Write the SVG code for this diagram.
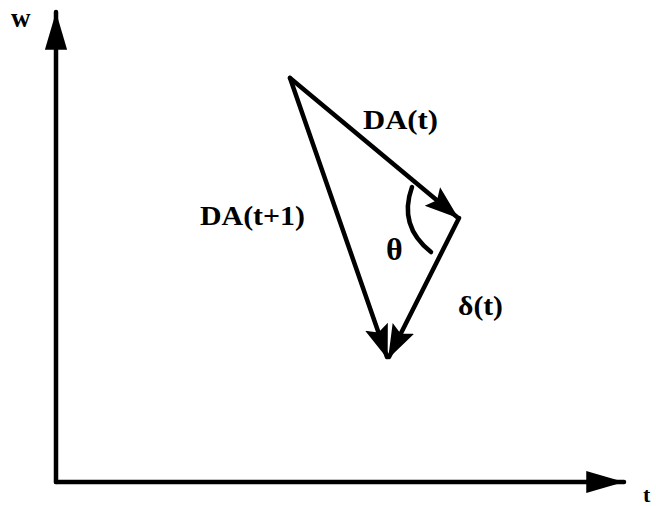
<svg xmlns="http://www.w3.org/2000/svg" width="656" height="506" viewBox="0 0 656 506">
<defs>
<marker id="ah" markerUnits="userSpaceOnUse" markerWidth="40" markerHeight="30" refX="32" refY="12" orient="auto" viewBox="0 0 40 24">
<path d="M0,0 L34,12 L0,24 L6,12 Z" fill="#000"/>
</marker>
<marker id="ax" markerUnits="userSpaceOnUse" markerWidth="40" markerHeight="30" refX="34" refY="10" orient="auto" viewBox="0 0 36 20">
<path d="M0,0 L34,10 L0,20 Z" fill="#000"/>
</marker>
</defs>
<style>
.l{stroke:#000;stroke-width:4.5;fill:none;stroke-linecap:round}
.t{font-family:"Liberation Serif",serif;font-weight:bold;fill:#000}
</style>
<rect width="656" height="506" fill="#fff"/>
<g id="axes">
<path class="l" d="M56,482 L56,12" marker-end="url(#ax)"/>
<path class="l" d="M56,482 L624,482" marker-end="url(#ax)"/>
</g>
<g id="connectors">
<path class="l" d="M290,78 L457,217" marker-end="url(#ah)"/>
<path class="l" d="M290,78 L387,357" marker-end="url(#ah)"/>
<path class="l" d="M459,218 L389,357" marker-end="url(#ah)"/>
<path class="l" d="M412,187 Q398,226 431,252"/>
</g>
<g id="labels">
<text class="t" x="11" y="27" font-size="27">w</text>
<text class="t" x="643" y="502" font-size="22">t</text>
<text class="t" x="363" y="129" font-size="27" textLength="75" lengthAdjust="spacingAndGlyphs">DA(t)</text>
<text class="t" x="200" y="225" font-size="27" textLength="105" lengthAdjust="spacingAndGlyphs">DA(t+1)</text>
<text class="t" x="386" y="260" font-size="32">θ</text>
<text class="t" x="458" y="315" font-size="27" textLength="45" lengthAdjust="spacingAndGlyphs">δ(t)</text>
</g>
</svg>
